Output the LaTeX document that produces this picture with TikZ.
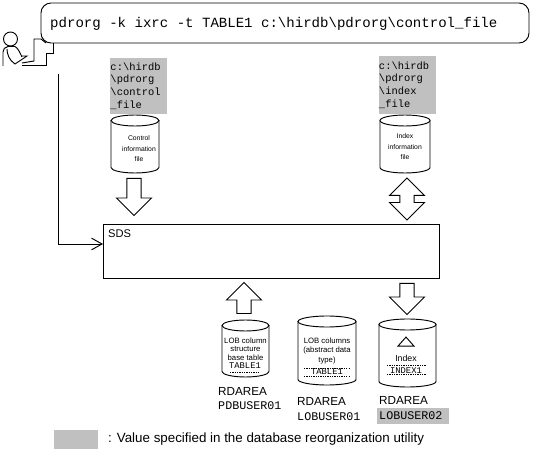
\documentclass[tikz,border=0pt]{standalone}
\usepackage{fontspec}
\setmainfont{Liberation Sans}
\setsansfont{Liberation Sans}
\setmonofont{Liberation Mono}
\usepackage{xcolor}
\usetikzlibrary{shapes.geometric,shapes.arrows,arrows.meta}

\definecolor{valuegray}{RGB}{192,192,192}

\tikzset{
  base/.style={line width=0.8pt},
  blockdown/.style={single arrow, draw, base, rotate=-90, anchor=tail, inner xsep=0pt, inner ysep=0.2cm,
    minimum width=1.02cm, single arrow head extend=0.31cm},
  blockup/.style={single arrow, draw, base, rotate=90, anchor=tail, inner xsep=0pt, inner ysep=0.2cm,
    minimum width=1.02cm, single arrow head extend=0.31cm},
  pathbox/.style={fill=valuegray, inner sep=0pt, minimum height=1.68cm, text width=1.68cm, align=left,
    font=\fontsize{8.9}{10.8}\selectfont\ttfamily},
  tinytext/.style={inner sep=0pt, align=center, font=\fontsize{5.8}{9}\selectfont},
  smalltext/.style={inner sep=0pt, align=center, font=\fontsize{6.6}{7.1}\selectfont},
  tinymono/.style={inner sep=0pt, font=\fontsize{7.5}{9}\selectfont\ttfamily},
  area/.style={inner sep=0pt, anchor=west, font=\fontsize{10}{12}\selectfont},
  areaname/.style={inner sep=0pt, anchor=west, font=\fontsize{10}{12}\selectfont\ttfamily},
  dots/.style={line width=0.6pt, dash pattern=on 1pt off 1pt}
}

% name, centre x, half width, top, bottom
\newcommand{\dbdrum}[5]{
  \coordinate (#1) at (#2, {(#4+#5)/2});
  \draw[base] (#2, #4+5.5) ellipse (#3 and 5.5);
  \draw[base] (#2-#3, #4+5.5) -- (#2-#3, #5-5.5) arc[start angle=180, end angle=0, x radius=#3, y radius=5.5] -- (#2+#3, #4+5.5);
}

\begin{document}
\begin{tikzpicture}[x=0.03cm, y=-0.03cm]
  \useasboundingbox (0, 0) rectangle (549, 452);

  % Command line
  \node[draw, base, rounded corners=0.3cm, minimum width=14.64cm, minimum height=1.2cm] (cmdbox) at (285, 23) {};
  \node[anchor=west, inner sep=0pt, font=\fontsize{12}{14}\selectfont\ttfamily] (cmdtext) at (50, 24)
    {pdrorg -k ixrc -t TABLE1 c:\textbackslash hirdb\textbackslash pdrorg\textbackslash control\_file};

  % Operator at the terminal
  \draw[base] (10.5, 39) circle (7);
  \draw[base, line width=1.4pt] (8, 46.5) -- (15, 46.5);
  \draw[base] (3, 66) -- (3, 52) .. controls (3, 49) and (5, 47) .. (8, 46.5);
  \draw[base] (15, 46.5) .. controls (18, 48) and (20, 53) .. (22, 57);
  \draw[base] (7, 49) .. controls (7, 54) and (9, 60) .. (15, 64) -- (27, 56) -- (22, 56);
  \draw[base] (22, 63) -- (34, 61) -- (34, 39) -- (41, 39) -- (46, 43);
  \draw[base] (22, 65) -- (46, 65) -- (46, 53) -- (53, 53) -- (53, 43);

  % Files
  \node[pathbox] (ctrlpath) at (138.5, 86) {c:\textbackslash hirdb\\\textbackslash pdrorg\\\textbackslash control\\\_file};
  \node[pathbox, minimum height=1.74cm, text width=1.71cm] (idxpath) at (407.5, 85) {c:\textbackslash hirdb\\\textbackslash pdrorg\\\textbackslash index\\\_file};
  \dbdrum{ctrlfile}{135}{24}{115}{173}
  \dbdrum{idxfile}{405}{25}{115}{173}
  \node[tinytext] (ctrltext) at (139, 149) {Control\\information\\file};
  \node[tinytext] (idxtext) at (405, 147) {Index\\information\\file};

  % Arrows to and from SDS
  \node[blockdown, minimum height=1.11cm] (ctrlarrow) at (134, 178) {};
  \node[double arrow, draw, base, rotate=90, inner xsep=0pt, inner ysep=0.2cm, minimum width=1.02cm, minimum height=1.26cm,
    double arrow head extend=0.31cm] (idxarrow) at (407, 199) {};
  \node[blockup, minimum height=0.93cm] (basearrow) at (244, 314) {};
  \node[blockdown, minimum height=0.93cm] (idxdown) at (407, 283) {};

  % SDS
  \node[draw, base, minimum width=10.08cm, minimum height=1.62cm] (sds) at (271, 251) {};
  \node[anchor=north west, inner sep=0pt, font=\fontsize{9.5}{11}\selectfont] (sdstext) at (108, 229) {SDS};
  \coordinate (cmdstart) at (58, 74);
  \coordinate (sdsin) at (103, 244);
  \draw[base, -{Straight Barb[length=9pt, width=10pt]}] (cmdstart) |- (sdsin);

  % RDAREAs
  \dbdrum{basecyl}{245.5}{23.5}{320}{377}
  \dbdrum{lobcyl}{327}{29}{316}{385}
  \dbdrum{idxcyl}{407.5}{28.5}{319}{387}

  \node[smalltext] (basetext) at (245.5, 349) {LOB column\\structure\\base table};
  \node[tinymono] (basetable) at (245, 366) {TABLE1};
  \coordinate (basel) at (230, 372);
  \coordinate (baser) at (259, 372);
  \draw[dots] (basel) -- (baser);

  \node[smalltext, font=\fontsize{6.6}{8.5}\selectfont] (lobtext) at (327, 351) {LOB columns\\(abstract data\\type)};
  \node[tinymono] (lobtable) at (327, 372) {TABLE1};
  \coordinate (lobal) at (304, 368);
  \coordinate (lobar) at (350, 368);
  \coordinate (lobbl) at (304, 376);
  \coordinate (lobbr) at (350, 376);
  \draw[dots] (lobal) -- (lobar);
  \draw[dots] (lobbl) -- (lobbr);

  \node[draw, base, isosceles triangle, isosceles triangle stretches, shape border rotate=90, inner sep=0pt,
    minimum height=0.27cm, minimum width=0.48cm] (idxtri) at (406, 342.5) {};
  \node[inner sep=0pt, font=\fontsize{7.5}{9}\selectfont] (idxlabel) at (406, 358) {Index};
  \node[tinymono] (idxname) at (406, 371) {INDEX1};
  \coordinate (idxal) at (387, 365);
  \coordinate (idxar) at (426, 365);
  \coordinate (idxbl) at (387, 374);
  \coordinate (idxbr) at (426, 374);
  \draw[dots] (idxal) -- (idxar);
  \draw[dots] (idxbl) -- (idxbr);

  \node[area] (area1) at (218, 391) {RDAREA};
  \node[areaname] (name1) at (218, 406) {PDBUSER01};
  \node[area] (area2) at (297, 401) {RDAREA};
  \node[areaname] (name2) at (297, 417) {LOBUSER01};
  \node[area] (area3) at (379, 400) {RDAREA};
  \node[fill=valuegray, minimum width=2.16cm, minimum height=0.48cm, inner sep=0pt] (name3bg) at (413, 416) {};
  \node[areaname] (name3) at (379, 416) {LOBUSER02};

  % Legend
  \node[fill=valuegray, minimum width=1.32cm, minimum height=0.57cm, inner sep=0pt] (legendbox) at (76, 439.5) {};
  \node[anchor=west, inner sep=0pt, font=\fontsize{11.4}{13}\selectfont] (legendtext) at (108, 439)
    {: Value specified in the database reorganization utility};
\end{tikzpicture}
\end{document}
